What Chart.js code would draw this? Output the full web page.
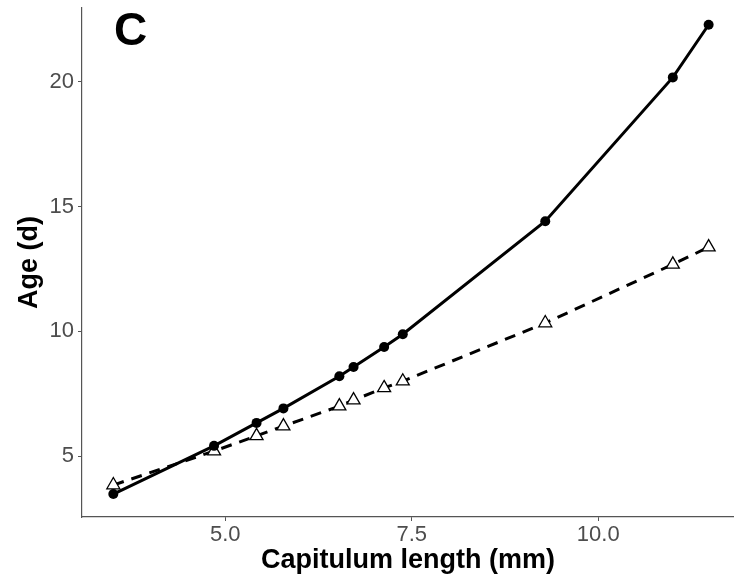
<!DOCTYPE html>
<html>
<head>
<meta charset="utf-8">
<script src="https://cdn.jsdelivr.net/npm/chart.js@4/dist/chart.umd.min.js"></script>
<style>
  html, body { margin: 0; padding: 0; background: #fff; }
  canvas { display: block; }
</style>
</head>
<body>
<canvas id="grafico" width="734" height="577"></canvas>
<script>
// capitulum length (mm)
const comprimento = [3.5, 4.85, 5.42, 5.78, 6.53, 6.72, 7.13, 7.38, 9.29, 11.0, 11.48];
// idade estimada - curva cheia (circulos)
const idadeCirculo = [3.48, 5.41, 6.33, 6.91, 8.2, 8.57, 9.37, 9.88, 14.41, 20.17, 22.28];
// idade estimada - curva tracejada (triangulos)
const idadeTriangulo = [3.84, 5.2, 5.81, 6.2, 7.0, 7.24, 7.73, 8.0, 10.33, 12.68, 13.37];

const ticksX = [5, 7.5, 10];
const ticksY = [5, 10, 15, 20];

const corEixo = '#555';
const corTexto = '#4d4d4d';
const fonte = '"Liberation Sans", Arial, sans-serif';

function pontos(ys) {
  return comprimento.map((x, i) => ({ x: x, y: ys[i] }));
}

// zera o padding que o chart.js reserva para os rotulos
function semPadding(scale) {
  scale.paddingTop = 0;
  scale.paddingBottom = 0;
  scale.paddingLeft = 0;
  scale.paddingRight = 0;
}

// letra do painel
const letraPainel = {
  id: 'letraPainel',
  afterDraw(chart) {
    const ctx = chart.ctx;
    ctx.save();
    ctx.fillStyle = '#000';
    ctx.font = 'bold 46px ' + fonte;
    ctx.textAlign = 'left';
    ctx.textBaseline = 'alphabetic';
    ctx.fillText('C', 114, 45);
    ctx.restore();
  }
};

new Chart(document.getElementById('grafico').getContext('2d'), {
  type: 'line',
  data: {
    datasets: [
      {
        label: 'circulos',
        data: pontos(idadeCirculo),
        borderColor: '#000',
        backgroundColor: '#000',
        borderWidth: 3,
        pointRadius: 5,
        pointBorderWidth: 0,
        pointBackgroundColor: '#000',
        tension: 0
      },
      {
        label: 'triangulos',
        data: pontos(idadeTriangulo),
        borderColor: '#000',
        borderWidth: 3,
        borderDash: [11, 8],
        pointStyle: 'triangle',
        pointRadius: 7.5,
        pointBorderWidth: 1.3,
        pointBorderColor: '#000',
        pointBackgroundColor: '#fff',
        tension: 0
      }
    ]
  },
  options: {
    responsive: false,
    animation: false,
    devicePixelRatio: 1,
    layout: { autoPadding: false, padding: { top: 8, right: 0, left: 0, bottom: 0 } },
    plugins: {
      legend: { display: false },
      tooltip: { enabled: false }
    },
    scales: {
      x: {
        type: 'linear',
        min: 3.08,
        max: 11.82,
        afterFit: (scale) => { scale.height = 60; semPadding(scale); },
        afterBuildTicks: (scale) => { scale.ticks = ticksX.map(v => ({ value: v })); },
        ticks: {
          color: corTexto,
          font: { family: fonte, size: 22 },
          padding: 1,
          callback: (v) => v.toFixed(1)
        },
        grid: { drawOnChartArea: false, tickLength: 4, color: corEixo },
        border: { color: corEixo, width: 1.2 },
        title: {
          display: true,
          text: 'Capitulum length (mm)',
          color: '#000',
          font: { family: fonte, size: 27, weight: 'bold' },
          padding: { top: 0, bottom: 0 }
        }
      },
      y: {
        type: 'linear',
        min: 2.56,
        max: 22.95,
        afterFit: (scale) => { scale.width = 82; semPadding(scale); },
        afterBuildTicks: (scale) => { scale.ticks = ticksY.map(v => ({ value: v })); },
        ticks: {
          color: corTexto,
          font: { family: fonte, size: 22 },
          padding: 4
        },
        grid: { drawOnChartArea: false, tickLength: 4, color: corEixo },
        border: { color: corEixo, width: 1.2 },
        title: {
          display: true,
          text: 'Age (d)',
          color: '#000',
          font: { family: fonte, size: 27, weight: 'bold' },
          padding: { top: 13, bottom: 0 }
        }
      }
    }
  },
  plugins: [letraPainel]
});
</script>
</body>
</html>
